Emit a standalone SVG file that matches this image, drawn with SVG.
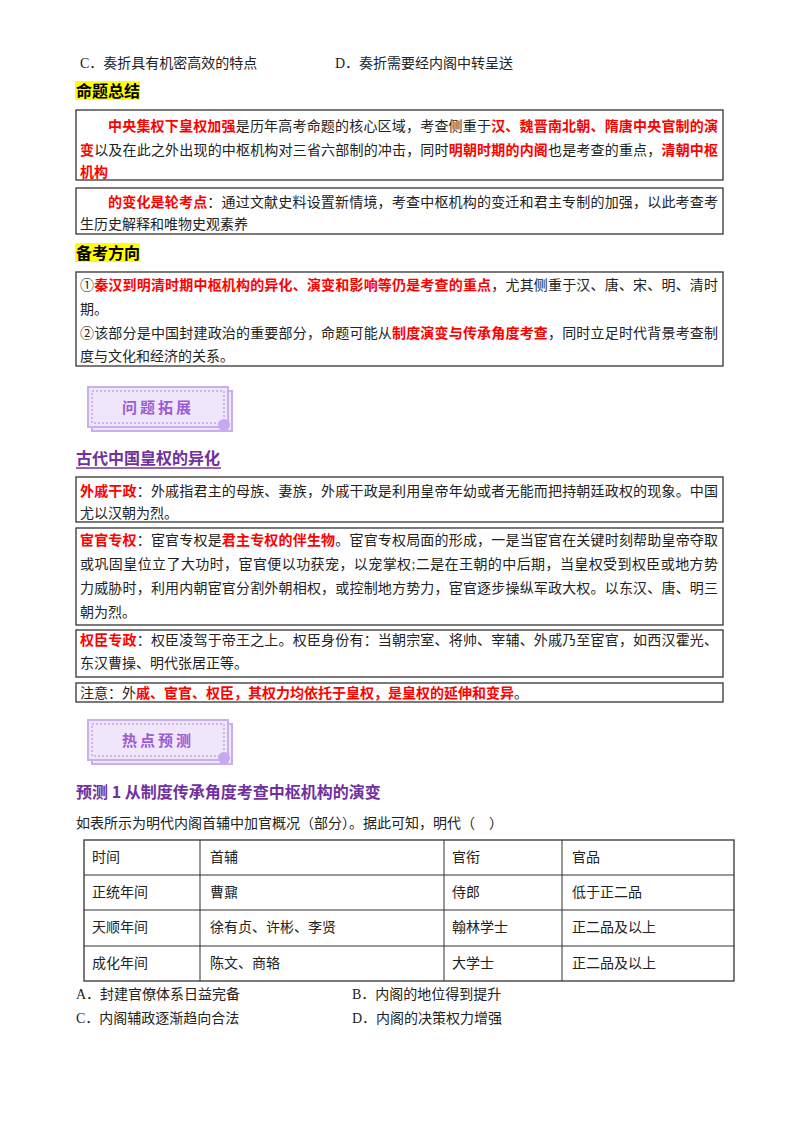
<svg xmlns="http://www.w3.org/2000/svg" width="800" height="1132" viewBox="0 0 800 1132">
<style>
text{font-family:"Liberation Serif","Noto Sans CJK SC",serif;font-size:14px;fill:#222}
.r{fill:#ff0000;font-weight:bold;font-family:"Noto Sans CJK SC",sans-serif}
.h{font-family:"Noto Sans CJK SC",sans-serif;font-weight:bold;font-size:16px;fill:#000}
.p{font-family:"Noto Sans CJK SC",sans-serif;font-weight:bold;font-size:16px;fill:#7030a0}
.box{fill:none;stroke:#333;stroke-width:1.3}
.bn{fill:#efe6fb;stroke:#c9aef0;stroke-width:2}
.bd{fill:none;stroke:#a98bd6;stroke-width:1;stroke-dasharray:2 2}
.bt{font-family:"Noto Sans CJK SC",sans-serif;font-weight:bold;font-size:15px;fill:#9b5bd6;letter-spacing:3px}
.tl{stroke:#333;stroke-width:1}
</style>
<g id="opts-top">
<text x="80" y="68">C．奏折具有机密高效的特点</text>
<text x="335" y="68">D．奏折需要经内阁中转呈送</text>
</g>
<g id="sec1">
<rect x="75" y="81" width="65" height="19" fill="#ffff00"/>
<text class="h" x="76" y="97">命题总结</text>
<rect class="box" x="76" y="110" width="647" height="70"/>
<text x="108" y="131" textLength="610" lengthAdjust="spacing"><tspan class="r">中央集权下皇权加强</tspan>是历年高考命题的核心区域，考查侧重于<tspan class="r">汉、魏晋南北朝、隋唐中央官制的演</tspan></text>
<text x="80" y="155" textLength="638" lengthAdjust="spacing"><tspan class="r">变</tspan>以及在此之外出现的中枢机构对三省六部制的冲击，同时<tspan class="r">明朝时期的内阁</tspan>也是考查的重点，<tspan class="r">清朝中枢</tspan></text>
<text x="80" y="177"><tspan class="r">机构</tspan></text>
<rect class="box" x="76" y="188" width="647" height="46"/>
<text x="108" y="207" textLength="610" lengthAdjust="spacing"><tspan class="r">的变化是轮考点</tspan>：通过文献史料设置新情境，考查中枢机构的变迁和君主专制的加强，以此考查考</text>
<text x="80" y="229">生历史解释和唯物史观素养</text>
</g>
<g id="sec2">
<rect x="75" y="243" width="65" height="19" fill="#ffff00"/>
<text class="h" x="76" y="259">备考方向</text>
<rect class="box" x="76" y="272" width="647" height="94"/>
<text x="80" y="290" textLength="638" lengthAdjust="spacing">①<tspan class="r">秦汉到明清时期中枢机构的异化、演变和影响等仍是考查的重点</tspan>，尤其侧重于汉、唐、宋、明、清时</text>
<text x="80" y="314">期。</text>
<text x="80" y="338" textLength="638" lengthAdjust="spacing">②该部分是中国封建政治的重要部分，命题可能从<tspan class="r">制度演变与传承角度考查</tspan>，同时立足时代背景考查制</text>
<text x="80" y="361">度与文化和经济的关系。</text>
</g>
<g id="banner1">
<rect class="bn" x="88" y="387" width="140" height="40" transform="translate(4,4)" fill="#e4d4fa"/>
<rect class="bn" x="88" y="387" width="140" height="40"/>
<rect class="bd" x="92" y="391" width="132" height="32"/>
<circle cx="224" cy="425" r="6" fill="#c9a8f2"/>
<text class="bt" x="158" y="413" text-anchor="middle">问题拓展</text>
</g>
<g id="sec3">
<text class="p" x="76" y="464">古代中国皇权的异化</text>
<line x1="76" y1="468" x2="221" y2="468" stroke="#7030a0" stroke-width="1.5"/>
<rect class="box" x="76" y="477" width="647" height="45"/>
<text x="80" y="496" textLength="638" lengthAdjust="spacing"><tspan class="r">外戚干政</tspan>：外戚指君主的母族、妻族，外戚干政是利用皇帝年幼或者无能而把持朝廷政权的现象。中国</text>
<text x="80" y="518">尤以汉朝为烈。</text>
<rect class="box" x="76" y="528" width="647" height="97"/>
<text x="80" y="545" textLength="638" lengthAdjust="spacing"><tspan class="r">宦官专权</tspan>：宦官专权是<tspan class="r">君主专权的伴生物</tspan>。宦官专权局面的形成，一是当宦官在关键时刻帮助皇帝夺取</text>
<text x="80" y="569" textLength="638" lengthAdjust="spacing">或巩固皇位立了大功时，宦官便以功获宠，以宠掌权;二是在王朝的中后期，当皇权受到权臣或地方势</text>
<text x="80" y="593" textLength="638" lengthAdjust="spacing">力威胁时，利用内朝宦官分割外朝相权，或控制地方势力，宦官逐步操纵军政大权。以东汉、唐、明三</text>
<text x="80" y="617">朝为烈。</text>
<rect class="box" x="76" y="630" width="647" height="47"/>
<text x="80" y="645" textLength="638" lengthAdjust="spacing"><tspan class="r">权臣专政</tspan>：权臣凌驾于帝王之上。权臣身份有：当朝宗室、将帅、宰辅、外戚乃至宦官，如西汉霍光、</text>
<text x="80" y="668">东汉曹操、明代张居正等。</text>
<rect class="box" x="76" y="683" width="647" height="19"/>
<text x="80" y="698">注意：外<tspan class="r">戚、宦官、权臣，其权力均依托于皇权，是皇权的延伸和变异</tspan>。</text>
</g>
<g id="banner2">
<rect class="bn" x="88" y="720" width="140" height="40" transform="translate(4,4)" fill="#e4d4fa"/>
<rect class="bn" x="88" y="720" width="140" height="40"/>
<rect class="bd" x="92" y="724" width="132" height="32"/>
<circle cx="224" cy="758" r="6" fill="#c9a8f2"/>
<text class="bt" x="158" y="746" text-anchor="middle">热点预测</text>
</g>
<g id="sec4">
<text class="p" x="76" y="798">预测 1  从制度传承角度考查中枢机构的演变</text>
<text x="76" y="828">如表所示为明代内阁首辅中加官概况（部分）。据此可知，明代（　）</text>
</g>
<g id="table">
<rect class="box" x="84" y="840" width="650" height="141" stroke-width="1"/>
<line class="tl" x1="84" y1="875" x2="734" y2="875"/>
<line class="tl" x1="84" y1="910" x2="734" y2="910"/>
<line class="tl" x1="84" y1="946" x2="734" y2="946"/>
<line class="tl" x1="200" y1="840" x2="200" y2="981"/>
<line class="tl" x1="444" y1="840" x2="444" y2="981"/>
<line class="tl" x1="562" y1="840" x2="562" y2="981"/>
<text x="92" y="862">时间</text><text x="210" y="862">首辅</text><text x="452" y="862">官衔</text><text x="572" y="862">官品</text>
<text x="92" y="897">正统年间</text><text x="210" y="897">曹鼐</text><text x="452" y="897">侍郎</text><text x="572" y="897">低于正二品</text>
<text x="92" y="932">天顺年间</text><text x="210" y="932">徐有贞、许彬、李贤</text><text x="452" y="932">翰林学士</text><text x="572" y="932">正二品及以上</text>
<text x="92" y="968">成化年间</text><text x="210" y="968">陈文、商辂</text><text x="452" y="968">大学士</text><text x="572" y="968">正二品及以上</text>
</g>
<g id="opts">
<text x="76" y="999">A．封建官僚体系日益完备</text>
<text x="352" y="999">B．内阁的地位得到提升</text>
<text x="76" y="1023">C．内阁辅政逐渐趋向合法</text>
<text x="352" y="1023">D．内阁的决策权力增强</text>
</g>
</svg>
